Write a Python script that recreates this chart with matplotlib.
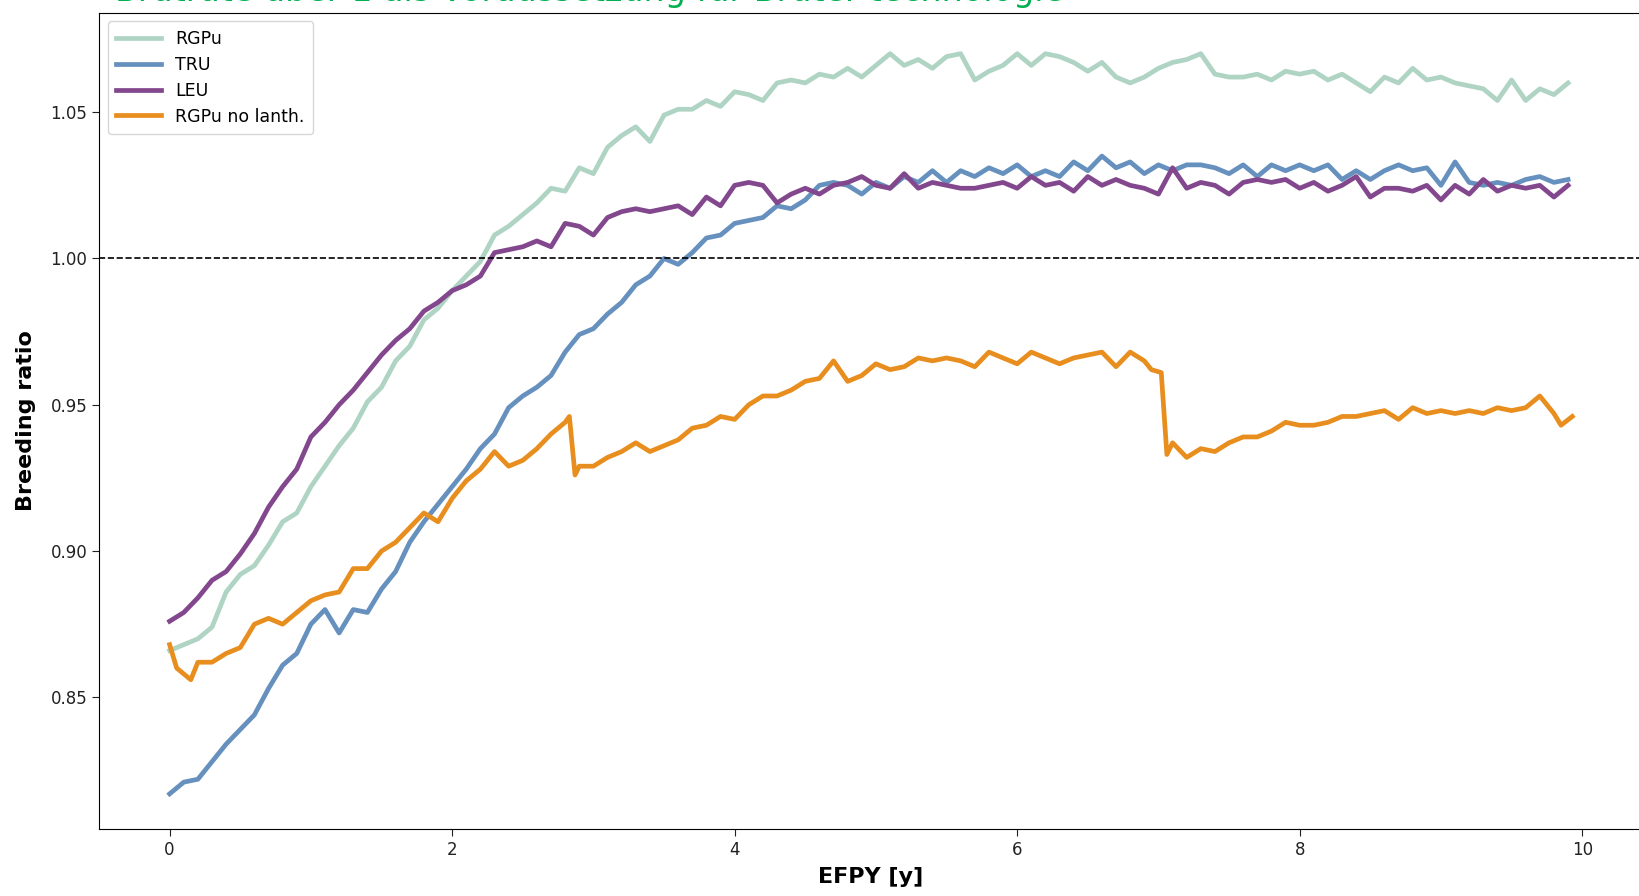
import numpy as np
import matplotlib
matplotlib.use("Agg")
import matplotlib.pyplot as plt

# EFPY grid for RGPu / TRU / LEU
efpy = np.round(np.arange(0.0, 10.0, 0.1), 2)

rgpu = [0.866, 0.868, 0.870, 0.874, 0.886, 0.892, 0.895, 0.902, 0.910, 0.913,
        0.922, 0.929, 0.936, 0.942, 0.951, 0.956, 0.965, 0.970, 0.979, 0.983,
        0.989, 0.994, 0.999, 1.008, 1.011, 1.015, 1.019, 1.024, 1.023, 1.031,
        1.029, 1.038, 1.042, 1.045, 1.040, 1.049, 1.051, 1.051, 1.054, 1.052,
        1.057, 1.056, 1.054, 1.060, 1.061, 1.060, 1.063, 1.062, 1.065, 1.062,
        1.066, 1.070, 1.066, 1.068, 1.065, 1.069, 1.070, 1.061, 1.064, 1.066,
        1.070, 1.066, 1.070, 1.069, 1.067, 1.064, 1.067, 1.062, 1.060, 1.062,
        1.065, 1.067, 1.068, 1.070, 1.063, 1.062, 1.062, 1.063, 1.061, 1.064,
        1.063, 1.064, 1.061, 1.063, 1.060, 1.057, 1.062, 1.060, 1.065, 1.061,
        1.062, 1.060, 1.059, 1.058, 1.054, 1.061, 1.054, 1.058, 1.056, 1.060]

tru = [0.817, 0.821, 0.822, 0.828, 0.834, 0.839, 0.844, 0.853, 0.861, 0.865,
       0.875, 0.880, 0.872, 0.880, 0.879, 0.887, 0.893, 0.903, 0.910, 0.916,
       0.922, 0.928, 0.935, 0.940, 0.949, 0.953, 0.956, 0.960, 0.968, 0.974,
       0.976, 0.981, 0.985, 0.991, 0.994, 1.000, 0.998, 1.002, 1.007, 1.008,
       1.012, 1.013, 1.014, 1.018, 1.017, 1.020, 1.025, 1.026, 1.025, 1.022,
       1.026, 1.024, 1.028, 1.026, 1.030, 1.026, 1.030, 1.028, 1.031, 1.029,
       1.032, 1.028, 1.030, 1.028, 1.033, 1.030, 1.035, 1.031, 1.033, 1.029,
       1.032, 1.030, 1.032, 1.032, 1.031, 1.029, 1.032, 1.028, 1.032, 1.030,
       1.032, 1.030, 1.032, 1.027, 1.030, 1.027, 1.030, 1.032, 1.030, 1.031,
       1.025, 1.033, 1.026, 1.025, 1.026, 1.025, 1.027, 1.028, 1.026, 1.027]

leu = [0.876, 0.879, 0.884, 0.890, 0.893, 0.899, 0.906, 0.915, 0.922, 0.928,
       0.939, 0.944, 0.950, 0.955, 0.961, 0.967, 0.972, 0.976, 0.982, 0.985,
       0.989, 0.991, 0.994, 1.002, 1.003, 1.004, 1.006, 1.004, 1.012, 1.011,
       1.008, 1.014, 1.016, 1.017, 1.016, 1.017, 1.018, 1.015, 1.021, 1.018,
       1.025, 1.026, 1.025, 1.019, 1.022, 1.024, 1.022, 1.025, 1.026, 1.028,
       1.025, 1.024, 1.029, 1.024, 1.026, 1.025, 1.024, 1.024, 1.025, 1.026,
       1.024, 1.028, 1.025, 1.026, 1.023, 1.028, 1.025, 1.027, 1.025, 1.024,
       1.022, 1.031, 1.024, 1.026, 1.025, 1.022, 1.026, 1.027, 1.026, 1.027,
       1.024, 1.026, 1.023, 1.025, 1.028, 1.021, 1.024, 1.024, 1.023, 1.025,
       1.020, 1.025, 1.022, 1.027, 1.023, 1.025, 1.024, 1.025, 1.021, 1.025]

# RGPu without lanthanide removal (own grid, two sharp drops)
nolan_x = [0.0, 0.05, 0.1, 0.15, 0.2, 0.3, 0.4, 0.5, 0.6, 0.7, 0.8, 0.9,
           1.0, 1.1, 1.2, 1.3, 1.4, 1.5, 1.6, 1.7, 1.8, 1.9, 2.0, 2.1, 2.2,
           2.3, 2.4, 2.5, 2.6, 2.7, 2.8, 2.83, 2.87, 2.9, 3.0, 3.1, 3.2, 3.3,
           3.4, 3.5, 3.6, 3.7, 3.8, 3.9, 4.0, 4.1, 4.2, 4.3, 4.4, 4.5, 4.6,
           4.7, 4.8, 4.9, 5.0, 5.1, 5.2, 5.3, 5.4, 5.5, 5.6, 5.7, 5.8, 5.9,
           6.0, 6.1, 6.2, 6.3, 6.4, 6.5, 6.6, 6.7, 6.8, 6.9, 6.95, 7.02, 7.06,
           7.1, 7.2, 7.3, 7.4, 7.5, 7.6, 7.7, 7.8, 7.9, 8.0, 8.1, 8.2, 8.3,
           8.4, 8.5, 8.6, 8.7, 8.8, 8.9, 9.0, 9.1, 9.2, 9.3, 9.4, 9.5, 9.6,
           9.7, 9.8, 9.85, 9.93]
nolan = [0.868, 0.860, 0.858, 0.856, 0.862, 0.862, 0.865, 0.867, 0.875, 0.877,
         0.875, 0.879, 0.883, 0.885, 0.886, 0.894, 0.894, 0.900, 0.903, 0.908,
         0.913, 0.910, 0.918, 0.924, 0.928, 0.934, 0.929, 0.931, 0.935, 0.940,
         0.944, 0.946, 0.926, 0.929, 0.929, 0.932, 0.934, 0.937, 0.934, 0.936,
         0.938, 0.942, 0.943, 0.946, 0.945, 0.950, 0.953, 0.953, 0.955, 0.958,
         0.959, 0.965, 0.958, 0.960, 0.964, 0.962, 0.963, 0.966, 0.965, 0.966,
         0.965, 0.963, 0.968, 0.966, 0.964, 0.968, 0.966, 0.964, 0.966, 0.967,
         0.968, 0.963, 0.968, 0.965, 0.962, 0.961, 0.933, 0.937, 0.932, 0.935,
         0.934, 0.937, 0.939, 0.939, 0.941, 0.944, 0.943, 0.943, 0.944, 0.946,
         0.946, 0.947, 0.948, 0.945, 0.949, 0.947, 0.948, 0.947, 0.948, 0.947,
         0.949, 0.948, 0.949, 0.953, 0.947, 0.943, 0.946]

labels = ["RGPu", "TRU", "LEU", "RGPu no lanth."]
colors = ["#afd4c3", "#6690bd", "#83478e", "#e88e1e"]

fig = plt.figure(figsize=(16.39, 8.96), dpi=100)
ax = fig.add_axes([0.0604, 0.0748, 0.942, 0.911])

ax.plot(efpy, rgpu, color=colors[0], lw=3.4, label=labels[0])
ax.plot(efpy, tru, color=colors[1], lw=3.4, label=labels[1])
ax.plot(efpy, leu, color=colors[2], lw=3.4, label=labels[2])
ax.plot(nolan_x, nolan, color=colors[3], lw=3.4, label=labels[3])
ax.axhline(1.0, color="black", ls="--", lw=1.2)

ax.set_xlim(-0.5, 10.43)
ax.set_ylim(0.805, 1.084)
ax.set_xticks([0, 2, 4, 6, 8, 10])
ax.set_yticks([0.85, 0.90, 0.95, 1.00, 1.05])
ax.yaxis.set_major_formatter(matplotlib.ticker.FormatStrFormatter("%.2f"))
ax.tick_params(labelsize=12, length=5, colors="#222222")
ax.set_xlabel("EFPY [y]", fontsize=16, fontweight="bold", labelpad=6)
ax.set_ylabel("Breeding ratio", fontsize=16, fontweight="bold", labelpad=10)

ax.legend(loc="upper left", fontsize=12.5, handlelength=2.6, borderpad=0.5,
          labelspacing=0.45, framealpha=0.8)

# slide title, cut off at the top edge as in the source screenshot
fig.text(115 / 1639, 1 - 1.5 / 896, "Brutrate über 1 als Voraussetzung für Brüter-technologie",
         color="#00b050", fontsize=24, va="baseline", ha="left")

fig.savefig("out.png", dpi=100)
